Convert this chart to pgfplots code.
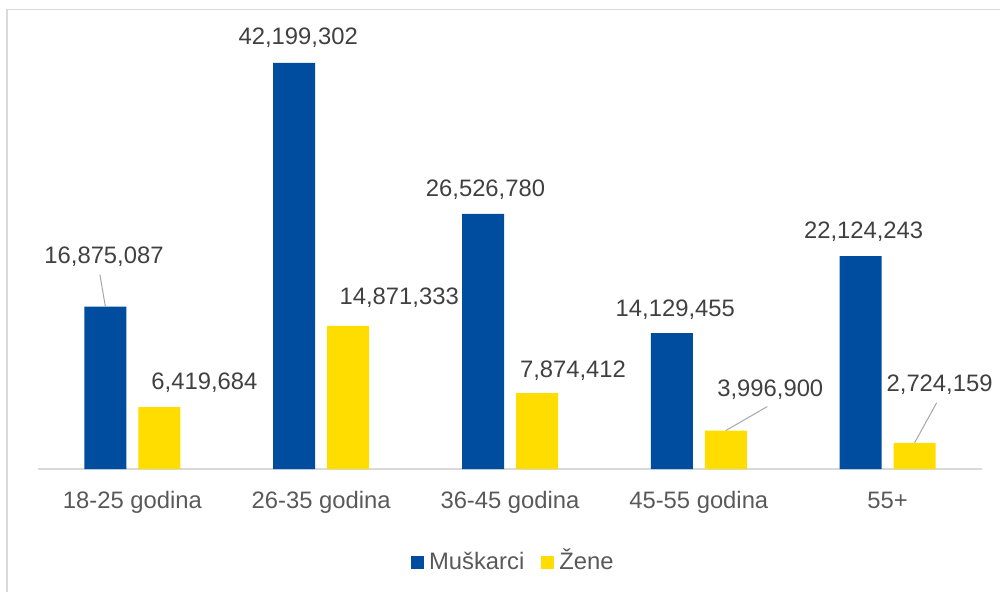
\documentclass[border=0pt]{standalone}
\usepackage{fontspec}
\setmainfont{Liberation Sans}
\usepackage{pgfplots}
\pgfplotsset{compat=1.18}
\usepackage{pgfplotstable}

\definecolor{mblue}{HTML}{004DA0}
\definecolor{zyellow}{HTML}{FFDD00}
\definecolor{txt}{HTML}{595959}
\definecolor{lbl}{HTML}{404040}
\definecolor{axgray}{HTML}{D9D9D9}
\definecolor{leader}{HTML}{A6A6A6}
\newcommand\lf{\fontsize{23.8pt}{28pt}\selectfont}

% x, value, label text, label offset from bar top (pt)
\pgfplotstableread{
x y label dx dy
0 16875087 16,875,087 -1.4 49.8
1 42199302 42,199,302 4 25
2 26526780 26,526,780 2.5 24.5
3 14129455 14,129,455 3.5 23
4 22124243 22,124,243 3 24
}\muski
\pgfplotstableread{
x y label dx dy
0 6419684 6,419,684 45 25
1 14871333 14,871,333 51 27.7
2 7874412 7,874,412 36 23
3 3996900 3,996,900 44.5 41
4 2724159 2,724,159 25 58
}\zene

% 188.8pt per category, 433pt for 45e6
\pgfplotsset{
  sq legend/.style={legend image code/.code={\fill[##1] (0pt,-6.5pt) rectangle (13pt,6.5pt);}},
  labelplot/.style={forget plot, sharp plot, draw=none, mark=none,
    nodes near coords, point meta=explicit symbolic,
    every node near coord/.append style={anchor=center, font=\lf, text=lbl, inner sep=0pt}},
}

\begin{document}
\begin{tikzpicture}
\useasboundingbox (0,0) rectangle (1000pt,592pt);
\draw[axgray, line width=1.2pt] (7pt,0) -- (7pt,582.5pt) -- (1000pt,582.5pt);
\begin{axis}[
    at={(38pt,123pt)}, anchor=south west,
    scale only axis, width=944pt, height=433pt,
    xmin=-0.5, xmax=4.5, ymin=0, ymax=45000000,
    axis x line*=bottom, axis y line=none,
    x axis line style={draw=axgray, line width=1.5pt, -},
    xtick={0,...,4},
    xticklabels={18-25 godina,26-35 godina,36-45 godina,45-55 godina,55+},
    xtick style={draw=none}, ytick=\empty,
    xticklabel style={font=\lf, text=txt, anchor=base, yshift=-39pt},
    legend style={at={(0.395,-0.2148)}, anchor=west, draw=none, fill=none,
        inner sep=0pt, font=\lf, text=txt, legend columns=-1,
        nodes={text height=19pt, text depth=4pt},
        /tikz/every odd column/.append style={column sep=3pt},
        /tikz/every even column/.append style={column sep=15pt}},
]
\addplot[ybar, bar width=42pt, bar shift=-27pt, fill=mblue, draw=none, sq legend]
    table[x=x, y=y] {\muski};
\addplot[ybar, bar width=42pt, bar shift=27pt, fill=zyellow, draw=none, sq legend]
    table[x=x, y=y] {\zene};
\legend{Muškarci, Žene}

\addplot[labelplot] table[x expr=\thisrow{x}+(\thisrow{dx}-27)/188.8,
    y expr=\thisrow{y}+\thisrow{dy}*103926, meta=label] {\muski};
\addplot[labelplot] table[x expr=\thisrow{x}+(\thisrow{dx}+27)/188.8,
    y expr=\thisrow{y}+\thisrow{dy}*103926, meta=label] {\zene};

% leader lines for labels that were moved away from their bars
\draw[leader, line width=1pt] ([xshift=-27pt]axis cs:0,16875087) -- ([xshift=-32.5pt, yshift=32pt]axis cs:0,16875087);
\draw[leader, line width=1pt] ([xshift=27pt]axis cs:3,3996900) -- ([xshift=68.5pt, yshift=24pt]axis cs:3,3996900);
\draw[leader, line width=1pt] ([xshift=27pt]axis cs:4,2724159) -- ([xshift=49pt, yshift=40pt]axis cs:4,2724159);
\end{axis}
\end{tikzpicture}
\end{document}
